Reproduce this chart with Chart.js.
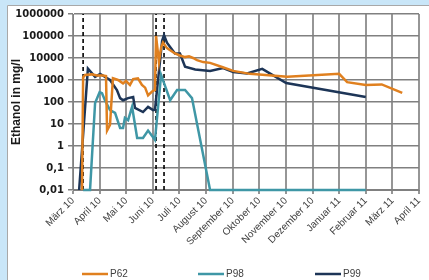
<!DOCTYPE html>
<html>
<head>
<meta charset="utf-8">
<script src="https://cdn.jsdelivr.net/npm/chart.js@4.4.1/dist/chart.umd.min.js"></script>
<style>
html,body{margin:0;padding:0;background:#c9e6f8;}
#wrap{position:absolute;left:0;top:0;width:429px;height:280px;}
</style>
</head>
<body>
<div id="wrap"><canvas id="c" width="429" height="280"></canvas></div>
<script>
// Category (month) labels of the x axis; x values are month offsets from März 10
const monthLabels = ['März 10','April 10','Mai 10','Juni 10','Juli 10','August 10','September 10','Oktober 10','November 10','Dezember 10','Januar 11','Februar 11','März 11','April 11'];
const yTicks = [0.01, 0.1, 1, 10, 100, 1000, 10000, 100000, 1000000];
const yTickLabels = ['0,01','0,1','1','10','100','1000','10000','100000','1000000'];

// P62
const p62Month = [0.34,0.38,0.45,0.71,0.90,1.13,1.24,1.28,1.39,1.50,1.69,1.88,1.99,2.14,2.26,2.44,2.59,2.71,2.82,2.97,3.08,3.12,3.23,3.31,3.38,3.53,3.83,4.02,4.21,4.36,4.51,4.66,4.89,5.15,5.60,6.02,6.65,8.05,10.0,10.3,11.0,11.6,12.37];
const p62Value = [0.01,1300,1700,1800,1600,1600,1500,5,9,1200,1000,700,900,600,1100,1200,600,450,200,300,350,100000,6500,30000,50000,28000,16000,13000,11000,12000,10000,8000,6500,6000,3900,2600,1900,1400,1900,800,600,630,260];

// P98
const p98Month = [0.38,0.64,0.83,1.00,1.09,1.20,1.39,1.58,1.77,1.88,1.95,2.07,2.22,2.41,2.63,2.82,3.08,3.31,3.65,3.91,4.21,4.47,5.15,11.0];
const p98Value = [0.01,0.01,90,280,250,120,43,32,6.6,6.6,19,15,60,2.3,2.3,5,1.9,1700,120,350,350,150,0.01,0.01];

// P99
const p99Month = [0.23,0.56,0.83,1.02,1.39,1.65,1.77,1.88,2.07,2.26,2.33,2.63,2.82,3.01,3.08,3.35,3.42,3.53,3.83,4.02,4.21,4.59,5.15,5.64,6.02,6.54,7.11,8.01,11.0];
const p99Value = [0.01,3300,1400,1900,1000,350,150,120,150,170,54,35,60,43,45,63000,110000,50000,16000,16000,4000,3000,2600,3500,2300,2000,3200,730,170];

// Dashed marker lines (month offsets)
const markerMonths = [0.38, 3.12, 3.42];

const seriesNames = ['P62','P98','P99'];
const seriesColors = ['#e0801f','#3f97a6','#1d3557'];

function pts(xs, ys){ return xs.map((x,i)=>({x:x, y:ys[i]})); }

const datasets = [
  {label:seriesNames[0], data:pts(p62Month,p62Value), borderColor:seriesColors[0]},
  {label:seriesNames[1], data:pts(p98Month,p98Value), borderColor:seriesColors[1]},
  {label:seriesNames[2], data:pts(p99Month,p99Value), borderColor:seriesColors[2]}
].map(d=>Object.assign(d,{borderWidth:2.5,pointRadius:0,tension:0,clip:false,fill:false}));

markerMonths.forEach(m=>{
  datasets.push({label:'', data:[{x:m,y:yTicks[0]},{x:m,y:yTicks[yTicks.length-1]}],
    borderColor:'#000', borderWidth:1.6, borderDash:[4,3], pointRadius:0, clip:false});
});

const framePlugin = {
  id:'frame',
  beforeDraw(chart){
    const c = chart.ctx;
    c.save();
    c.fillStyle = '#c9e6f8';
    c.fillRect(0,0,chart.width,chart.height);
    c.fillStyle = '#ffffff';
    c.fillRect(7,5,chart.width-7,chart.height-5);
    c.strokeStyle = '#a8a8a8';
    c.lineWidth = 1;
    c.beginPath();
    c.moveTo(7.5,chart.height); c.lineTo(7.5,5.5); c.lineTo(chart.width,5.5);
    c.stroke();
    c.restore();
  }
};

const legendPlugin = {
  id:'customLegend',
  afterDraw(chart){
    const c = chart.ctx;
    const starts = [82, 198, 315];
    const y = 274;
    c.save();
    c.font = '10px "Liberation Sans"';
    c.textBaseline = 'middle';
    c.fillStyle = '#404040';
    for (let i=0;i<3;i++){
      const ds = chart.data.datasets[i];
      c.strokeStyle = ds.borderColor;
      c.lineWidth = 2.5;
      c.beginPath(); c.moveTo(starts[i], y); c.lineTo(starts[i]+26, y); c.stroke();
      c.fillText(ds.label, starts[i]+28, y+0.5);
    }
    c.restore();
  }
};

new Chart(document.getElementById('c'), {
  type:'line',
  data:{datasets:datasets},
  options:{
    responsive:false,
    animation:false,
    events:[],
    layout:{padding:{left:0,right:10,top:14,bottom:0}},
    plugins:{legend:{display:false}, tooltip:{enabled:false}},
    scales:{
      x:{
        type:'linear', min:0, max:monthLabels.length-1,
        afterBuildTicks(s){ s.ticks = monthLabels.map((_,i)=>({value:i})); },
        afterFit(s){ s.height = 90; },
        ticks:{autoSkip:false, maxRotation:45, minRotation:45, padding:1,
          color:'#404040', font:{family:'"Liberation Sans"', size:10},
          callback:(v,i)=>monthLabels[i]},
        grid:{display:true, drawOnChartArea:true, color:'rgb(150,150,150)', lineWidth:2, tickLength:4},
        border:{color:'#808080', width:1}
      },
      y:{
        type:'logarithmic', min:yTicks[0], max:yTicks[yTicks.length-1],
        afterBuildTicks(s){ s.ticks = yTicks.map(v=>({value:v})); },
        afterFit(s){ s.width = 73; },
        ticks:{autoSkip:false, padding:4, color:'#1a1a1a',
          font:{family:'"DejaVu Sans"', size:10, weight:'bold'},
          callback:(v,i)=>yTickLabels[i]},
        grid:{display:true, drawOnChartArea:true, color:'rgb(128,128,128)', lineWidth:1.5, tickLength:5},
        border:{color:'#808080', width:1},
        title:{display:true, text:'Ethanol in mg/l', color:'#1a1a1a',
          font:{family:'"Liberation Sans"', size:12, weight:'bold'}, padding:{top:9,bottom:0}}
      }
    }
  },
  plugins:[framePlugin, legendPlugin]
});
</script>
</body>
</html>
